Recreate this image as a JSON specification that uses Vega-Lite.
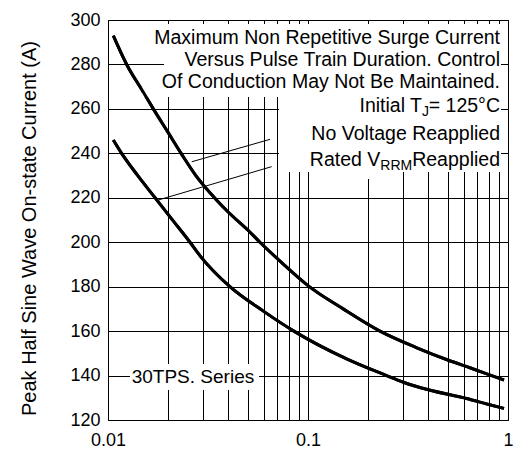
{
  "$schema": "https://vega.github.io/schema/vega-lite/v6.json",
  "width": 400,
  "height": 400,
  "autosize": {"type": "none"},
  "padding": {"left": 108, "top": 20, "right": 17, "bottom": 30},
  "background": "white",
  "config": {
    "view": {"stroke": "black", "strokeWidth": 1},
    "font": "Liberation Sans",
    "axis": {
      "domain": false,
      "ticks": false,
      "grid": true,
      "gridColor": "black",
      "gridOpacity": 1,
      "gridWidth": 1,
      "labelFont": "Liberation Sans",
      "labelFontSize": 18,
      "labelColor": "black",
      "titleFont": "Liberation Sans",
      "titleFontWeight": "normal",
      "titleColor": "black"
    }
  },
  "datasets": {
    "curves": [
      {"series": "No Voltage Reapplied", "t": 0.01063, "i": 293},
      {"series": "No Voltage Reapplied", "t": 0.0124, "i": 280},
      {"series": "No Voltage Reapplied", "t": 0.015, "i": 267.6},
      {"series": "No Voltage Reapplied", "t": 0.01685, "i": 260},
      {"series": "No Voltage Reapplied", "t": 0.02, "i": 249.3},
      {"series": "No Voltage Reapplied", "t": 0.0232, "i": 240},
      {"series": "No Voltage Reapplied", "t": 0.0275, "i": 230},
      {"series": "No Voltage Reapplied", "t": 0.0345, "i": 219.5},
      {"series": "No Voltage Reapplied", "t": 0.04, "i": 213.5},
      {"series": "No Voltage Reapplied", "t": 0.05, "i": 205.5},
      {"series": "No Voltage Reapplied", "t": 0.0575, "i": 200},
      {"series": "No Voltage Reapplied", "t": 0.075, "i": 190.3},
      {"series": "No Voltage Reapplied", "t": 0.1, "i": 180.5},
      {"series": "No Voltage Reapplied", "t": 0.15, "i": 170},
      {"series": "No Voltage Reapplied", "t": 0.229, "i": 160},
      {"series": "No Voltage Reapplied", "t": 0.35, "i": 152.5},
      {"series": "No Voltage Reapplied", "t": 0.5, "i": 147},
      {"series": "No Voltage Reapplied", "t": 0.65, "i": 143.4},
      {"series": "No Voltage Reapplied", "t": 0.828, "i": 140},
      {"series": "No Voltage Reapplied", "t": 0.955, "i": 138},
      {"series": "Rated VRRM Reapplied", "t": 0.01063, "i": 246},
      {"series": "Rated VRRM Reapplied", "t": 0.0117, "i": 240},
      {"series": "Rated VRRM Reapplied", "t": 0.014, "i": 230.3},
      {"series": "Rated VRRM Reapplied", "t": 0.0172, "i": 220},
      {"series": "Rated VRRM Reapplied", "t": 0.0208, "i": 210.5},
      {"series": "Rated VRRM Reapplied", "t": 0.0257, "i": 200},
      {"series": "Rated VRRM Reapplied", "t": 0.0288, "i": 194},
      {"series": "Rated VRRM Reapplied", "t": 0.0407, "i": 180},
      {"series": "Rated VRRM Reapplied", "t": 0.0598, "i": 169},
      {"series": "Rated VRRM Reapplied", "t": 0.085, "i": 160},
      {"series": "Rated VRRM Reapplied", "t": 0.156, "i": 147.5},
      {"series": "Rated VRRM Reapplied", "t": 0.247, "i": 140},
      {"series": "Rated VRRM Reapplied", "t": 0.3, "i": 137},
      {"series": "Rated VRRM Reapplied", "t": 0.4, "i": 133.6},
      {"series": "Rated VRRM Reapplied", "t": 0.62, "i": 129.7},
      {"series": "Rated VRRM Reapplied", "t": 0.8, "i": 127},
      {"series": "Rated VRRM Reapplied", "t": 0.955, "i": 125.2}
    ],
    "boxes": [
      {"t": 0.013646, "t2": 0.92257, "i": 298.2, "i2": 284.7},
      {"t": 0.019055, "t2": 0.92257, "i": 284.7, "i2": 274.8},
      {"t": 0.014791, "t2": 0.92257, "i": 274.8, "i2": 265.35},
      {"t": 0.071614, "t2": 0.92257, "i": 265.35, "i2": 231.6},
      {"t": 0.18197, "t2": 0.2884, "i": 231.6, "i2": 228.45},
      {"t": 0.012882, "t2": 0.056885, "i": 145.2, "i2": 133.5}
    ],
    "leaders": [
      {"t": 0.02621, "t2": 0.0646, "i": 236.2, "i2": 246.3},
      {"t": 0.01784, "t2": 0.0658, "i": 219, "i2": 234}
    ],
    "notes": [
      {"kind": "main", "t": 0.912, "i": 289.2, "text": "Maximum Non Repetitive Surge Current"},
      {"kind": "main", "t": 0.912, "i": 279.4, "text": "Versus Pulse Train Duration. Control"},
      {"kind": "main", "t": 0.912, "i": 269.3, "text": "Of Conduction May Not Be Maintained."},
      {"kind": "main", "t": 0.912, "i": 258.7, "text": "= 125°C"},
      {"kind": "main", "t": 0.37154, "i": 258.7, "text": "Initial T"},
      {"kind": "main", "t": 0.912, "i": 246, "text": "No Voltage Reapplied"},
      {"kind": "main", "t": 0.912, "i": 234.4, "text": "Reapplied"},
      {"kind": "main", "t": 0.22985, "i": 234.4, "text": "Rated V"},
      {"kind": "sub", "t": 0.40272, "i": 256.9, "text": "J"},
      {"kind": "sub", "t": 0.33189, "i": 232.5, "text": "RRM"},
      {"kind": "series", "t": 0.013137, "i": 136.65, "text": "30TPS. Series"}
    ]
  },
  "layer": [
    {
      "data": {"name": "curves"},
      "mark": {"type": "line", "color": "black", "strokeWidth": 3, "interpolate": "monotone"},
      "encoding": {
        "x": {
          "field": "t",
          "type": "quantitative",
          "scale": {"type": "log", "domain": [0.01, 1], "nice": false},
          "axis": {
            "title": null,
            "values": [0.01, 0.02, 0.03, 0.04, 0.05, 0.06, 0.07, 0.08, 0.09, 0.1, 0.2, 0.3, 0.4, 0.5, 0.6, 0.7, 0.8, 0.9, 1],
            "format": "~g",
            "labelExpr": "indexof(['0.01','0.1','1'], datum.label) >= 0 ? datum.label : ''",
            "labelOverlap": false,
            "labelFlush": false,
            "labelPadding": 11
          }
        },
        "y": {
          "field": "i",
          "type": "quantitative",
          "scale": {"domain": [120, 300], "nice": false, "zero": false},
          "axis": {
            "title": "Peak Half Sine Wave On-state Current (A)",
            "titleFontSize": 20,
            "values": [120, 140, 160, 180, 200, 220, 240, 260, 280, 300],
            "labelPadding": 8,
            "titlePadding": 30,
            "titleY": 208
          }
        },
        "detail": {"field": "series", "type": "nominal"}
      }
    },
    {
      "data": {"name": "boxes"},
      "mark": {"type": "rect", "fill": "white", "strokeWidth": 0},
      "encoding": {
        "x": {"field": "t", "type": "quantitative"},
        "x2": {"field": "t2"},
        "y": {"field": "i", "type": "quantitative"},
        "y2": {"field": "i2"}
      }
    },
    {
      "data": {"name": "leaders"},
      "mark": {"type": "rule", "color": "black", "strokeWidth": 1},
      "encoding": {
        "x": {"field": "t", "type": "quantitative"},
        "x2": {"field": "t2"},
        "y": {"field": "i", "type": "quantitative"},
        "y2": {"field": "i2"}
      }
    },
    {
      "data": {"name": "curves"},
      "mark": {"type": "line", "color": "black", "strokeWidth": 3, "interpolate": "monotone"},
      "encoding": {
        "x": {"field": "t", "type": "quantitative"},
        "y": {"field": "i", "type": "quantitative"},
        "detail": {"field": "series", "type": "nominal"}
      }
    },
    {
      "data": {"name": "notes"},
      "transform": [{"filter": "datum.kind == 'main'"}],
      "mark": {"type": "text", "align": "right", "baseline": "alphabetic", "fontSize": 19.5, "font": "Liberation Sans", "color": "black"},
      "encoding": {
        "x": {"field": "t", "type": "quantitative"},
        "y": {"field": "i", "type": "quantitative"},
        "text": {"field": "text"}
      }
    },
    {
      "data": {"name": "notes"},
      "transform": [{"filter": "datum.kind == 'sub'"}],
      "mark": {"type": "text", "align": "right", "baseline": "alphabetic", "fontSize": 14, "font": "Liberation Sans", "color": "black"},
      "encoding": {
        "x": {"field": "t", "type": "quantitative"},
        "y": {"field": "i", "type": "quantitative"},
        "text": {"field": "text"}
      }
    },
    {
      "data": {"name": "notes"},
      "transform": [{"filter": "datum.kind == 'series'"}],
      "mark": {"type": "text", "align": "left", "baseline": "alphabetic", "fontSize": 19, "font": "Liberation Sans", "color": "black"},
      "encoding": {
        "x": {"field": "t", "type": "quantitative"},
        "y": {"field": "i", "type": "quantitative"},
        "text": {"field": "text"}
      }
    }
  ]
}
